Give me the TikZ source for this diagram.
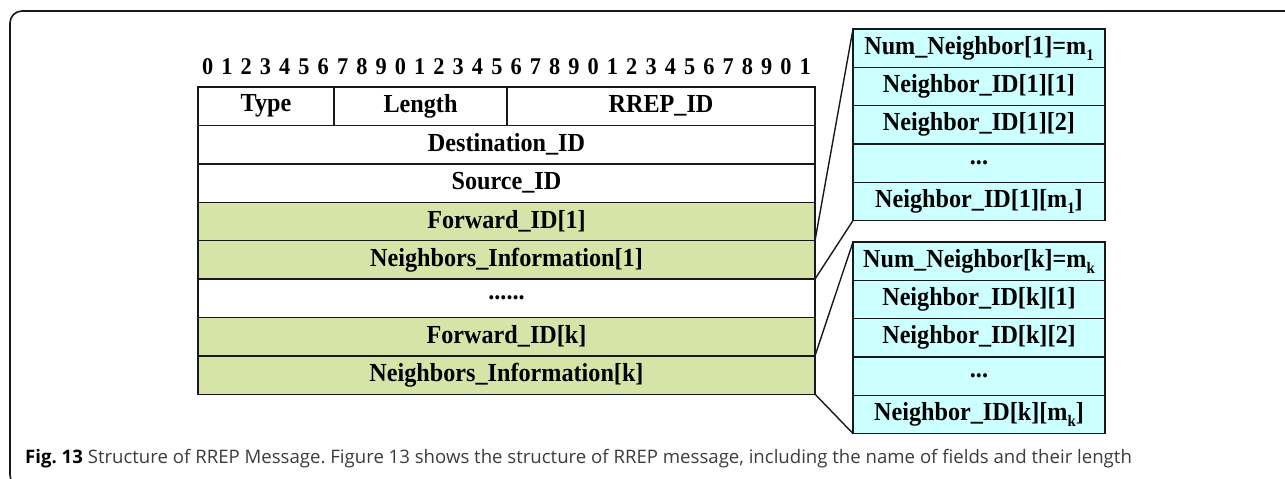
\documentclass[tikz,border=0pt]{standalone}
\usepackage{fontspec}
\setmainfont{Liberation Serif}
\newfontfamily\cellfont{Liberation Serif}[FakeStretch=0.93]
\newfontfamily\capfont{Open Sans}
\definecolor{fieldgreen}{RGB}{215,228,168}
\definecolor{fieldcyan}{RGB}{204,255,255}
\definecolor{captext}{RGB}{60,60,60}
\definecolor{edge}{RGB}{25,25,25}
% lowered small index, as in m_1 and m_k
\newcommand\lowidx[1]{\raisebox{-0.22em}{\fontsize{16}{16}\selectfont #1}}
\frenchspacing

\begin{document}
\begin{tikzpicture}[x=1pt,y=-1pt,
  cell/.style={draw=edge, line width=1.4pt, inner sep=0pt, outer sep=0pt,
    minimum height=38.4pt, font=\cellfont\bfseries\fontsize{26}{30}\selectfont},
  wcell/.style={cell, fill=white},
  gcell/.style={cell, fill=fieldgreen},
  ccell/.style={cell, fill=fieldcyan, minimum width=252pt, minimum height=38.3pt},
  bitnum/.style={font=\cellfont\bfseries\fontsize{24}{26}\selectfont, inner sep=0pt},
  link/.style={draw=edge, line width=1.4pt}
]
\useasboundingbox (0,0) rectangle (1285,479);

% outer frame
\draw[edge, line width=1.6pt, rounded corners=12pt] (1320,11) -- (10,11) -- (10,487) -- (60,487);

% bit numbering above the message
\foreach \i in {0,...,31} {
  \pgfmathtruncatemacro\d{mod(\i,10)}
  \node[bitnum] (bit\i) at ({198+19.28*(\i+0.5)}, 67) {\d};
}

% RREP message fields
\node[wcell, minimum width=136pt] (type) at (266,106.2) {Type};
\node[wcell, minimum width=173pt] (len)  at (420.5,106.2) {Length};
\node[wcell, minimum width=308pt] (rrep) at (661,106.2) {RREP\_ID};
\node[wcell, minimum width=617pt] (dest) at (506.5,144.6) {Destination\_ID};
\node[wcell, minimum width=617pt] (src)  at (506.5,183) {Source\_ID};
\node[gcell, minimum width=617pt] (fwd1) at (506.5,221.4) {Forward\_ID[1]};
\node[gcell, minimum width=617pt] (ni1)  at (506.5,259.8) {Neighbors\_Information[1]};
\node[wcell, minimum width=617pt] (gap)  at (506.5,298.2) {......};
\node[gcell, minimum width=617pt] (fwdk) at (506.5,336.6) {Forward\_ID[k]};
\node[gcell, minimum width=617pt] (nik)  at (506.5,375) {Neighbors\_Information[k]};

% neighbor list of the first forwarder
\node[ccell] (a1) at (979,48.2)  {Num\_Neighbor[1]=m\lowidx{1}};
\node[ccell] (a2) at (979,86.5)  {Neighbor\_ID[1][1]};
\node[ccell] (a3) at (979,124.8) {Neighbor\_ID[1][2]};
\node[ccell] (a4) at (979,163.1) {...};
\node[ccell] (a5) at (979,201.4) {Neighbor\_ID[1][m\lowidx{1}]};

% neighbor list of the k-th forwarder
\node[ccell] (b1) at (979,261.2) {Num\_Neighbor[k]=m\lowidx{k}};
\node[ccell] (b2) at (979,299.5) {Neighbor\_ID[k][1]};
\node[ccell] (b3) at (979,337.8) {Neighbor\_ID[k][2]};
\node[ccell] (b4) at (979,376.1) {...};
\node[ccell] (b5) at (979,414.4) {Neighbor\_ID[k][m\lowidx{k}]};

% expansion lines
\draw[link] (fwd1.south east) -- (a1.north west);
\draw[link] (ni1.south east) -- (a5.south west);
\draw[link] (fwdk.south east) -- (b1.north west);
\draw[link] (nik.south east) -- (b5.south west);

% caption
\node[anchor=base west, inner sep=0pt, text=captext,
  font=\capfont\fontsize{18.6}{22}\selectfont] (cap) at (25,463)
  {{\bfseries\color{black}Fig. 13} Structure of RREP Message. Figure 13 shows the structure of RREP message, including the name of fields and their length};
\end{tikzpicture}
\end{document}
